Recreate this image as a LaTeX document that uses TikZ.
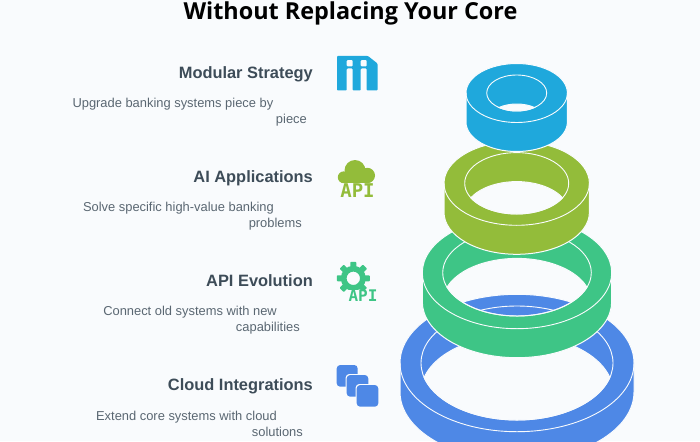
\documentclass[tikz,border=0pt]{standalone}
\usepackage{fontspec}
\setmainfont{Liberation Sans}
\newfontfamily\titlefont{Open Sans}
\newfontfamily\apifont{DejaVu Sans Mono}
\definecolor{bgc}{HTML}{F9FBFD}
\definecolor{cyanc}{HTML}{1FA8DC}
\definecolor{limec}{HTML}{93BC3A}
\definecolor{greenc}{HTML}{3EC586}
\definecolor{bluec}{HTML}{4E88E6}
\definecolor{headc}{HTML}{3D4C58}
\definecolor{descc}{HTML}{5A6772}
\newcommand{\ringdraw}[8]{%
% #1 colour, #2 cx, #3 cy, #4 rx, #5 ry, #6 h, #7 irx, #8 iry
\pgfmathsetmacro{\halfh}{#6/2}
\pgfmathsetmacro{\tang}{asin(\halfh/#8)}
\pgfmathsetmacro{\tbot}{#3+#6}
\pgfmathsetmacro{\lensy}{#3+\halfh}
\pgfmathsetmacro{\lensx}{#7*cos(\tang)}
\pgfmathsetmacro{\sang}{180+\tang}
\pgfmathsetmacro{\eang}{360-\tang}
\pgfmathsetmacro{\uang}{180-\tang}
% body with see-through hole; y axis points down, so angle 90 is the screen bottom
\fill[#1,even odd rule,draw=bgc,line width=1pt]
  (#2-#4,#3) arc[start angle=180,end angle=360,x radius=#4,y radius=#5]
  -- (#2+#4,\tbot) arc[start angle=0,end angle=180,x radius=#4,y radius=#5]
  -- cycle
  (#2-\lensx,\lensy) arc[start angle=\sang,end angle=\eang,x radius=#7,y radius=#8]
  arc[start angle=\tang,end angle=\uang,x radius=#7,y radius=#8] -- cycle;
\draw[ringline] (#2,#3) ellipse[x radius=#7,y radius=#8];
\draw[ringline] (#2-#4,#3) arc[start angle=180,end angle=0,x radius=#4,y radius=#5];
}
\tikzset{
 x=1pt,y=-1pt,
 ringline/.style={draw=bgc,line width=0.9pt},
 headtxt/.style={font=\bfseries\fontsize{16.4}{18}\selectfont,text=headc,anchor=base east,inner sep=0pt},
 desctxt/.style={font=\fontsize{12.9}{14}\selectfont,text=descc,anchor=base east,inner sep=0pt},
 apitxt/.style={font=\apifont\bfseries\fontsize{16}{16}\selectfont,inner sep=0pt},
}
\begin{document}
\begin{tikzpicture}
\useasboundingbox (0,0) rectangle (700,441);
\begin{scope}
\clip (0,0) rectangle (700,441);
\fill[bgc] (0,0) rectangle (700,441);
\ringdraw{bluec}{517}{363}{117}{68.7}{29}{96}{57}
\ringdraw{greenc}{517}{272.7}{94.7}{56}{29}{74.3}{43.3}
\ringdraw{limec}{516.7}{183.3}{72.7}{42}{29}{52}{30.7}
\ringdraw{cyanc}{516.7}{93}{50.7}{29.5}{29}{30}{18}
% modular icon
\fill[cyanc,even odd rule,rounded corners=0.8pt]
 (337,56) -- (368,56) -- (377.5,63.5) -- (377.5,90.5) -- (366.7,90.5) -- (366.7,68.5) -- (360.7,68.5) -- (360.7,90.5) -- (352.7,90.5) -- (352.7,68.5) -- (346.7,68.5) -- (346.7,90.5) -- (337,90.5) -- cycle
 (346.7,60) rectangle (352.7,66.5)
 (360.7,60) rectangle (366.7,66.5);
% cloud
\fill[limec] (343.7,172) rectangle (367.3,183);
\fill[limec] (355,170.5) circle[radius=10.5];
\fill[limec] (343.7,177.3) circle[radius=5.9];
\fill[limec] (367.3,175.5) circle[radius=7.7];
% gear
\fill[greenc,even odd rule] (353.3,278.3) circle[radius=12.5] (353.3,278.3) circle[radius=6.7];
\foreach \a in {0,45,...,315}{
 \fill[greenc,rotate around={\a:(353.3,278.3)},rounded corners=0.8pt] (350.3,261.8) rectangle (356.3,269);
}
\fill[bgc] (347,289.5) rectangle (379,303);
% stacked squares
\fill[bluec,rounded corners=3.5pt] (336.7,365) rectangle (357.7,386.7);
\fill[bgc,rounded corners=3.5pt] (345.7,374) rectangle (369.3,397.7);
\fill[bluec,rounded corners=3.5pt] (346.7,375) rectangle (368.3,396.7);
\fill[bgc,rounded corners=3.5pt] (355.7,384) rectangle (379.3,407.7);
\fill[bluec,rounded corners=3.5pt] (356.7,385) rectangle (378.3,406.7);
\end{scope}
\node[font=\titlefont\bfseries\fontsize{23.4}{26}\selectfont,text=black,inner sep=0pt] (title) at (350.5,13) {Without Replacing Your Core};
\node[headtxt] (h1) at (313,78.5) {Modular Strategy};
\node[desctxt] (d1a) at (273.5,107.5) {Upgrade banking systems piece by};
\node[desctxt] (d1b) at (307,123) {piece};
\node[headtxt] (h2) at (313,182.5) {AI Applications};
\node[desctxt] (d2a) at (274,211.7) {Solve specific high-value banking};
\node[desctxt] (d2b) at (302,227.5) {problems};
\node[headtxt] (h3) at (313,286.5) {API Evolution};
\node[desctxt] (d3a) at (277,315.7) {Connect old systems with new};
\node[desctxt] (d3b) at (300,331) {capabilities};
\node[headtxt] (h4) at (313,390.5) {Cloud Integrations};
\node[desctxt] (d4a) at (277,420) {Extend core systems with cloud};
\node[desctxt] (d4b) at (303,436) {solutions};
\node[apitxt,text=limec,font=\apifont\bfseries\fontsize{19}{18}\selectfont] (api1) at (357.5,191) {API};
\node[apitxt,text=greenc] (api2) at (363,296) {API};
\end{tikzpicture}
\end{document}
